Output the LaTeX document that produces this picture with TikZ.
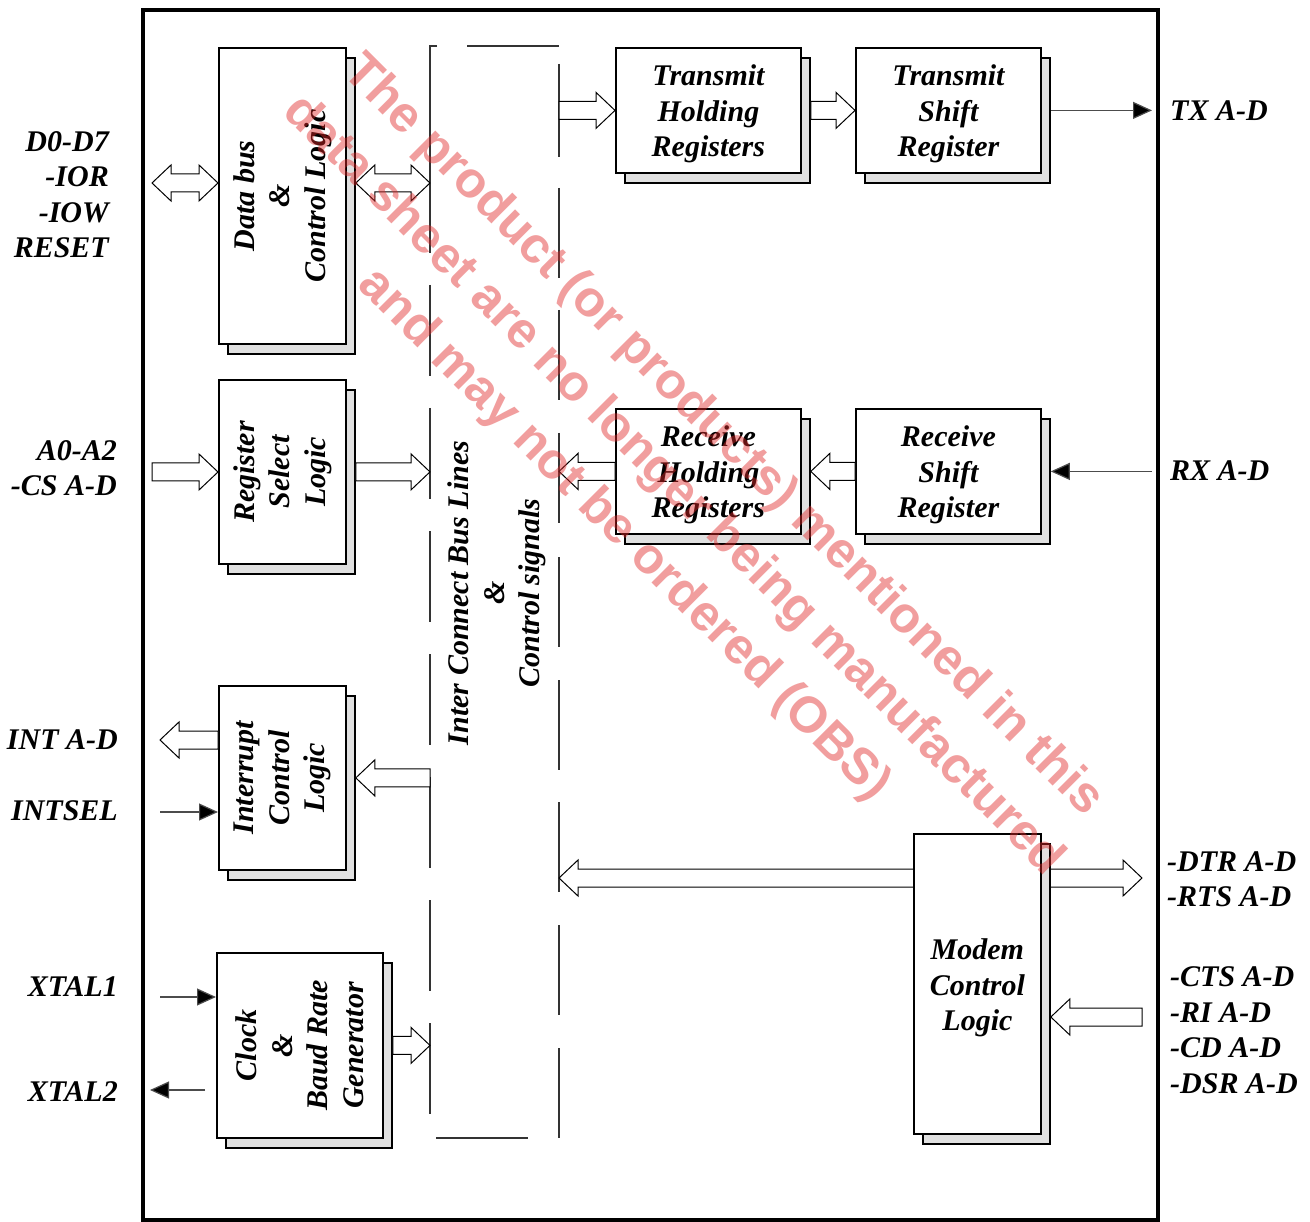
\documentclass[tikz,border=0pt]{standalone}
\usepackage{fontspec}
\setmainfont{Liberation Serif}
\newfontfamily\wmfont{Liberation Sans}
\usetikzlibrary{arrows.meta,shadows,calc}
\definecolor{wmred}{RGB}{225,40,40}

\newcommand\barr[2]{%
  \draw[hollow] let \p1=(#1), \p2=(#2), \n1={\x2-19*sign(\x2-\x1)} in
  (\x1,\y1+9pt) -- (\n1,\y1+9pt) -- (\n1,\y1+18pt) -- (\x2,\y1)
  -- (\n1,\y1-18pt) -- (\n1,\y1-9pt) -- (\x1,\y1-9pt) -- cycle;}
\newcommand\dbarr[2]{%
  \draw[hollow] let \p1=(#1), \p2=(#2), \n1={\x1+19pt}, \n2={\x2-19pt} in
  (\x1,\y1) -- (\n1,\y1+18pt) -- (\n1,\y1+9pt) -- (\n2,\y1+9pt)
  -- (\n2,\y1+18pt) -- (\x2,\y1) -- (\n2,\y1-18pt) -- (\n2,\y1-9pt)
  -- (\n1,\y1-9pt) -- (\n1,\y1-18pt) -- cycle;}

\begin{document}
\begin{tikzpicture}[x=1pt,y=-1pt,
  lab/.style={font=\bfseries\itshape\fontsize{30}{35.5}\selectfont, inner sep=0pt, align=center},
  blk/.style={draw, fill=white, line width=1.8pt, inner sep=0pt, anchor=north west,
    copy shadow={shadow xshift=9pt, shadow yshift=-10pt, fill=black!12, draw=black, line width=1.8pt}},
  hollow/.style={draw=black, fill=white, line width=1pt},
  thinarr/.style={line width=1.2pt, draw=black!70, -{Triangle[length=19pt,width=17pt,fill=black]}},
  busline/.style={line width=1.2pt, draw=black!80},
  wm/.style={font=\wmfont\bfseries\fontsize{50.5}{70}\selectfont, text=wmred, text opacity=0.45, align=center, inner sep=0pt}
]
\useasboundingbox (0,0) rectangle (1310,1222);
\fill[white] (0,0) rectangle (1310,1222);

% outer frame
\draw[line width=4pt] (143,10) rectangle (1158,1220);

% inter connect bus (dashed outline)
\draw[busline] (437,46) -- (430,46) -- (430,253);
\foreach \a in {285,408,531,654,777,900,1023} \draw[busline] (430,\a) -- (430,\a+91);
\draw[busline] (467,46) -- (559,46);
\draw[busline] (559,64) -- (559,157);
\foreach \a in {188,310,433,557,680,802,925,1048} \draw[busline] (559,\a) -- (559,\a+90);
\draw[busline] (436,1138) -- (528,1138);
\coordinate (busL) at (430,600);
\coordinate (busR) at (559,600);

% external coordinates
\coordinate (dIn) at (152,183);
\coordinate (aIn) at (152,472);
\coordinate (intOut) at (160,740);
\coordinate (intsel) at (160,812);
\coordinate (xt1) at (160,997);
\coordinate (xt2t) at (205,1090);
\coordinate (xt2) at (150,1090);
\coordinate (txEnd) at (1152,110);
\coordinate (rxStart) at (1152,471);
\coordinate (mdA) at (559,878);
\coordinate (mdB) at (1142,878);
\coordinate (mIn) at (1142,1017);

% modem double arrow (behind the box)
\dbarr{mdA}{mdB}

% blocks
\node[blk, minimum width=127pt, minimum height=296pt] (dbl) at (218,47) {};
\node[lab, rotate=90] (dblT) at (dbl.center) {Data bus\\\&\\Control Logic};
\node[blk, minimum width=127pt, minimum height=184pt] (rsl) at (218,379) {};
\node[lab, rotate=90] (rslT) at (rsl.center) {Register\\Select\\Logic};
\node[blk, minimum width=127pt, minimum height=184pt] (icl) at (218,685) {};
\node[lab, rotate=90] (iclT) at (icl.center) {Interrupt\\Control\\Logic};
\node[blk, minimum width=166pt, minimum height=185pt] (clk) at (216,952) {};
\node[lab, rotate=90] (clkT) at (clk.center) {Clock\\\&\\Baud Rate\\Generator};
\node[blk, minimum width=185pt, minimum height=125pt] (thr) at (615,47) {};
\node[lab] (thrT) at ($(thr.center)+(0,3.5)$) {Transmit\\Holding\\Registers};
\node[blk, minimum width=185pt, minimum height=125pt] (tsr) at (855,47) {};
\node[lab] (tsrT) at ($(tsr.center)+(0,3.5)$) {Transmit\\Shift\\Register};
\node[blk, minimum width=185pt, minimum height=125pt] (rhr) at (615,408) {};
\node[lab] (rhrT) at ($(rhr.center)+(0,3.5)$) {Receive\\Holding\\Registers};
\node[blk, minimum width=185pt, minimum height=125pt] (rsr) at (855,408) {};
\node[lab] (rsrT) at ($(rsr.center)+(0,3.5)$) {Receive\\Shift\\Register};
\node[blk, minimum width=127pt, minimum height=300pt] (mcl) at (913,833) {};
\node[lab] (mclT) at ($(mcl.center)+(0,4)$) {Modem\\Control\\Logic};

% bus label
\node[lab, rotate=90] (busT) at (497,593) {Inter Connect Bus Lines\\\&\\Control signals};

% hollow arrows
\dbarr{dIn}{dbl.west}
\dbarr{$(dIn -| dbl.east)+(9,0)$}{busL}
\barr{aIn}{rsl.west}
\barr{$(rsl.east)+(9,0)$}{busL}
\barr{icl.west |- intOut}{intOut}
\barr{busL |- icl.east}{$(icl.east)+(9,0)$}
\barr{$(clk.east)+(9,0)$}{busL}
\barr{busR |- thr.west}{thr.west}
\barr{$(thr.east)+(9,0)$}{tsr.west}
\barr{rsr.west}{$(rhr.east)+(9,0)$}
\barr{rhr.west}{busR}
\barr{mIn}{$(mcl.east |- mIn)+(9,0)$}

% thin arrows
\draw[thinarr] (intsel) -- (intsel -| icl.west);
\draw[thinarr] (xt1) -- (xt1 -| clk.west);
\draw[thinarr] (xt2t) -- (xt2);
\draw[thinarr] ($(tsr.east)+(9,0)$) -- (tsr.east -| txEnd);
\draw[thinarr] (rxStart |- rsr.east) -- ($(rsr.east)+(9,0)$);

% pin labels
\node[lab, anchor=east, align=right] (lD) at (109,194.5) {D0-D7\\-IOR\\-IOW\\RESET};
\node[lab, anchor=east, align=right] (lA) at (117,468) {A0-A2\\-CS A-D};
\node[lab, anchor=east] (lINT) at (118,740) {INT A-D};
\node[lab, anchor=east] (lINTSEL) at (118,811) {INTSEL};
\node[lab, anchor=east] (lX1) at (118,987) {XTAL1};
\node[lab, anchor=east] (lX2) at (118,1092) {XTAL2};
\node[lab, anchor=west] (lTX) at (1170,111) {TX A-D};
\node[lab, anchor=west] (lRX) at (1170,471) {RX A-D};
\node[lab, anchor=west, align=left] (lDTR) at (1167,879) {-DTR A-D\\-RTS A-D};
\node[lab, anchor=west, align=left] (lCTS) at (1170,1030) {-CTS A-D\\-RI A-D\\-CD A-D\\-DSR A-D};

% watermark
\node[wm, rotate=-45] (wmk) at (673,486) {The product (or products) mentioned in this\\data sheet are no longer being manufactured\\and may not be ordered (OBS)};
\end{tikzpicture}
\end{document}
